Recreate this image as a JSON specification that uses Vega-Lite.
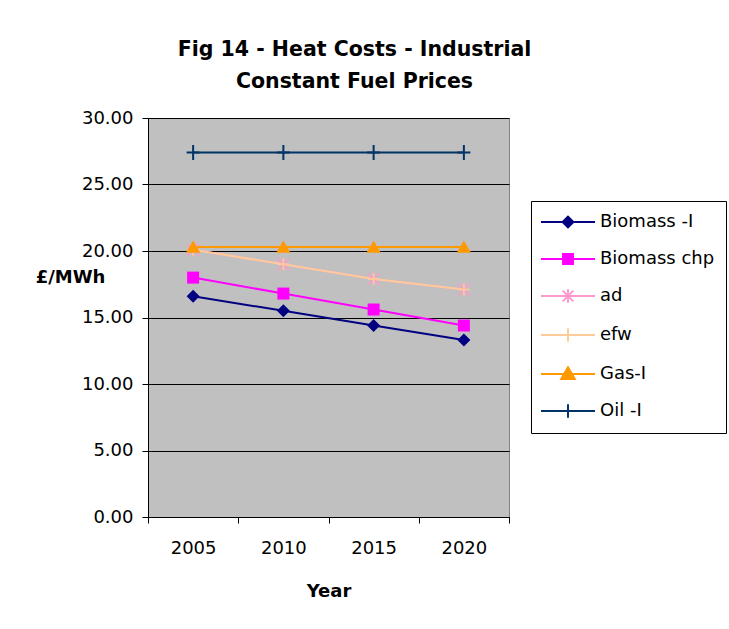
{
  "$schema": "https://vega.github.io/schema/vega-lite/v6.json",
  "autosize": {"type": "none"},
  "padding": {"left": 148, "top": 118, "right": 220, "bottom": 112},
  "width": 361,
  "height": 399,
  "background": "white",
  "title": {
    "text": ["Fig 14 - Heat Costs - Industrial", "Constant Fuel Prices"],
    "font": "DejaVu Sans",
    "fontSize": 20.5,
    "fontWeight": "bold",
    "color": "black",
    "anchor": "middle",
    "lineHeight": 32,
    "offset": 17,
    "dx": 26
  },
  "config": {
    "font": "DejaVu Sans",
    "view": {"fill": "#C0C0C0", "stroke": "#808080", "strokeWidth": 1},
    "legend": {
      "labelFont": "DejaVu Sans",
      "labelFontSize": 18,
      "labelColor": "black",
      "labelLimit": 0,
      "strokeColor": "black",
      "fillColor": "white",
      "padding": 11,
      "rowPadding": 17,
      "symbolSize": 324,
      "symbolStrokeWidth": 2,
      "symbolOpacity": 1,
      "symbolOffset": 16,
      "labelOffset": 22,
      "cornerRadius": 0
    }
  },
  "data": {
    "values": [
      {"year": "2005", "series": "Biomass -I", "value": 16.6},
      {"year": "2010", "series": "Biomass -I", "value": 15.5},
      {"year": "2015", "series": "Biomass -I", "value": 14.4},
      {"year": "2020", "series": "Biomass -I", "value": 13.3},
      {"year": "2005", "series": "Biomass chp", "value": 18.0},
      {"year": "2010", "series": "Biomass chp", "value": 16.8},
      {"year": "2015", "series": "Biomass chp", "value": 15.6},
      {"year": "2020", "series": "Biomass chp", "value": 14.4},
      {"year": "2005", "series": "ad", "value": 20.1},
      {"year": "2010", "series": "ad", "value": 19.0},
      {"year": "2015", "series": "ad", "value": 17.9},
      {"year": "2020", "series": "ad", "value": 17.1},
      {"year": "2005", "series": "efw", "value": 20.1},
      {"year": "2010", "series": "efw", "value": 19.0},
      {"year": "2015", "series": "efw", "value": 17.9},
      {"year": "2020", "series": "efw", "value": 17.1},
      {"year": "2005", "series": "Gas-I", "value": 20.3},
      {"year": "2010", "series": "Gas-I", "value": 20.3},
      {"year": "2015", "series": "Gas-I", "value": 20.3},
      {"year": "2020", "series": "Gas-I", "value": 20.3},
      {"year": "2005", "series": "Oil -I", "value": 27.4},
      {"year": "2010", "series": "Oil -I", "value": 27.4},
      {"year": "2015", "series": "Oil -I", "value": 27.4},
      {"year": "2020", "series": "Oil -I", "value": 27.4}
    ]
  },
  "encoding": {
    "x": {
      "field": "year",
      "type": "ordinal",
      "scale": {"type": "band", "paddingInner": 0, "paddingOuter": 0},
      "axis": {
        "title": "Year",
        "titleFont": "DejaVu Sans",
        "titleFontSize": 18,
        "titleFontWeight": "bold",
        "titleColor": "black",
        "titlePadding": 25,
        "labelAngle": 0,
        "labelFont": "DejaVu Sans",
        "labelFontSize": 18,
        "labelColor": "black",
        "labelPadding": 16,
        "tickBand": "extent",
        "tickSize": 6,
        "tickColor": "black",
        "domainColor": "black",
        "grid": false
      }
    },
    "y": {
      "field": "value",
      "type": "quantitative",
      "scale": {"domain": [0, 30], "nice": false, "zero": true},
      "axis": {
        "values": [0, 5, 10, 15, 20, 25, 30],
        "format": ".2f",
        "title": "£/MWh",
        "titleAngle": 0,
        "titleX": -78,
        "titleY": 159,
        "titleAlign": "center",
        "titleBaseline": "middle",
        "titleFont": "DejaVu Sans",
        "titleFontSize": 18,
        "titleFontWeight": "bold",
        "titleColor": "black",
        "labelFont": "DejaVu Sans",
        "labelFontSize": 18,
        "labelColor": "black",
        "labelPadding": 9,
        "tickSize": 6,
        "tickColor": "black",
        "domainColor": "black",
        "grid": true,
        "gridColor": "black",
        "gridOpacity": 1,
        "gridWidth": 1
      }
    },
    "color": {
      "field": "series",
      "type": "nominal",
      "scale": {
        "domain": ["Biomass -I", "Biomass chp", "ad", "efw", "Gas-I", "Oil -I"],
        "range": ["#000080", "#FF00FF", "#FF99CC", "#FFCC99", "#FF9900", "#003366"]
      }
    }
  },
  "layer": [
    {"mark": {"type": "line", "strokeWidth": 2}},
    {
      "transform": [{"filter": "datum.series === 'Biomass -I'"}],
      "mark": {"type": "point", "shape": "diamond", "filled": true, "size": 169, "opacity": 1}
    },
    {
      "transform": [{"filter": "datum.series === 'Biomass chp'"}],
      "mark": {"type": "point", "shape": "square", "filled": true, "size": 144, "opacity": 1}
    },
    {
      "transform": [{"filter": "datum.series === 'ad'"}],
      "mark": {"type": "point", "shape": "M-1,-1L1,1M-1,1L1,-1M0,-1.15V1.15", "filled": false, "size": 144, "strokeWidth": 1.5, "opacity": 1}
    },
    {
      "transform": [{"filter": "datum.series === 'efw'"}],
      "mark": {"type": "point", "shape": "M-1,0H1M0,-1V1", "filled": false, "size": 144, "strokeWidth": 1.5, "opacity": 1}
    },
    {
      "transform": [{"filter": "datum.series === 'Gas-I'"}],
      "mark": {"type": "point", "shape": "M0,-1L1.1,0.9H-1.1Z", "filled": true, "size": 169, "opacity": 1}
    },
    {
      "transform": [{"filter": "datum.series === 'Oil -I'"}],
      "mark": {"type": "point", "shape": "M-1,0H1M0,-1.15V1.15", "filled": false, "size": 169, "strokeWidth": 2, "opacity": 1}
    },
    {
      "mark": {"type": "point", "filled": true, "opacity": 0},
      "encoding": {
        "color": {
          "field": "series",
          "type": "nominal",
          "legend": {
            "title": null,
            "orient": "none",
            "legendX": 383,
            "legendY": 83,
            "encode": {
              "symbols": {
                "update": {
                  "stroke": {"scale": "color", "field": "value"},
                  "strokeWidth": {"value": 2},
                  "opacity": {"value": 1}
                }
              }
            }
          }
        },
        "shape": {
          "field": "series",
          "type": "nominal",
          "scale": {
            "domain": ["Biomass -I", "Biomass chp", "ad", "efw", "Gas-I", "Oil -I"],
            "range": [
              "M-3,0H3M0,-0.6L0.6,0L0,0.6L-0.6,0Z",
              "M-3,0H3M-0.55,-0.55H0.55V0.55H-0.55Z",
              "M-3,0H3M-0.6,-0.6L0.6,0.6M-0.6,0.6L0.6,-0.6M0,-0.75V0.75",
              "M-3,0H3M0,-0.75V0.75",
              "M-3,0H3M0,-0.75L0.75,0.55H-0.75Z",
              "M-3,0H3M0,-0.75V0.75"
            ]
          },
          "legend": {
            "title": null,
            "orient": "none",
            "legendX": 383,
            "legendY": 83
          }
        }
      }
    }
  ]
}
